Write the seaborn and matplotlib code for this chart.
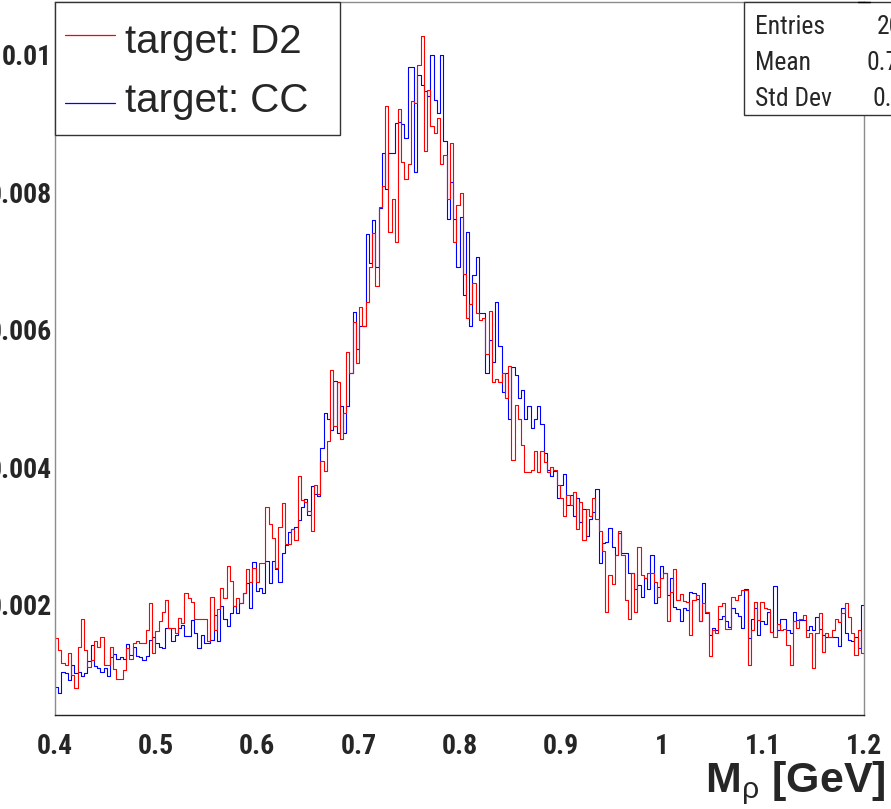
import numpy as np
import pandas as pd
import seaborn as sns
import matplotlib.pyplot as plt
from matplotlib import font_manager
from matplotlib.font_manager import FontProperties
from matplotlib.lines import Line2D
from matplotlib.patches import Rectangle
from matplotlib.ticker import MultipleLocator, FuncFormatter

# ---------------------------------------------------------------- data
x_lo, x_hi, n_bins = 0.4, 1.2, 250

# normalised bin contents, in units of 1e-3
d2 = [1.52, 1.34, 1.16, 1.13, 1.30, 0.98, 0.79, 1.39, 1.80, 1.34,
      1.10, 1.20, 1.47, 1.39, 1.53, 1.13, 1.13, 1.39, 1.07, 0.93,
      0.93, 1.06, 1.37, 1.21, 1.44, 1.47, 1.44, 1.44, 1.64, 2.03,
      1.30, 1.62, 1.76, 1.90, 2.07, 1.66, 1.66, 1.59, 1.81, 1.74,
      2.17, 2.10, 2.05, 1.79, 1.79, 1.79, 1.80, 1.47, 2.12, 1.64,
      1.94, 2.24, 2.10, 2.56, 2.35, 1.98, 2.10, 2.03, 2.17, 2.52,
      2.34, 2.54, 2.33, 2.61, 2.61, 3.43, 3.18, 2.97, 2.54, 3.14,
      3.48, 2.88, 2.88, 3.10, 2.95, 3.88, 3.53, 3.50, 3.36, 3.07,
      3.74, 3.62, 4.09, 3.95, 4.38, 5.42, 4.60, 5.25, 4.42, 4.79,
      5.68, 5.37, 6.11, 5.52, 6.33, 6.06, 6.41, 6.92, 7.41, 6.64,
      7.79, 8.10, 9.26, 7.43, 7.90, 7.28, 9.21, 8.45, 8.19, 8.41,
      9.33, 9.30, 9.85, 10.27, 8.60, 9.49, 8.96, 8.86, 9.09, 8.41,
      8.55, 7.90, 8.72, 7.28, 7.82, 7.99, 6.82, 6.18, 6.38, 6.68,
      6.24, 6.15, 6.17, 5.65, 6.28, 5.25, 5.28, 5.25, 5.38, 5.01,
      5.47, 4.11, 4.91, 4.71, 4.33, 3.94, 3.94, 3.97, 4.24, 3.94,
      4.24, 4.08, 3.94, 4.01, 3.96, 3.75, 3.55, 3.30, 3.60, 3.45,
      3.65, 3.10, 3.50, 2.95, 3.40, 3.30, 3.55, 3.25, 3.07, 2.79,
      1.90, 2.43, 2.30, 2.73, 3.07, 2.73, 2.07, 1.79, 2.46, 1.90,
      2.84, 2.43, 2.39, 2.47, 2.47, 2.34, 2.12, 2.39, 2.47, 1.76,
      2.19, 2.52, 2.07, 2.16, 2.06, 2.04, 1.56, 2.07, 2.15, 1.76,
      2.03, 1.90, 1.26, 1.64, 1.59, 1.98, 2.03, 1.65, 1.65, 2.11,
      2.07, 2.15, 2.22, 2.22, 1.13, 1.64, 2.05, 1.78, 2.05, 1.96,
      1.94, 1.60, 1.53, 1.73, 1.64, 1.65, 1.42, 1.13, 1.76, 1.66,
      1.80, 1.85, 1.53, 1.59, 1.08, 1.59, 1.88, 1.31, 1.59, 1.53,
      1.63, 1.80, 1.75, 1.88, 2.03, 1.83, 1.59, 1.27, 1.64, 1.30]

cc = [0.81, 0.72, 1.03, 1.01, 0.91, 1.13, 1.01, 1.02, 0.96, 1.01,
      1.18, 1.42, 1.11, 1.09, 1.02, 1.08, 0.97, 1.25, 1.29, 1.22,
      1.25, 1.22, 1.43, 1.27, 1.39, 1.26, 1.24, 1.20, 1.26, 1.49,
      1.54, 1.44, 1.39, 1.37, 1.66, 1.66, 1.48, 1.56, 1.66, 1.71,
      1.55, 1.55, 1.78, 1.59, 1.38, 1.56, 1.44, 1.44, 1.49, 1.85,
      1.47, 1.98, 1.80, 1.69, 1.88, 1.98, 1.89, 2.03, 2.18, 2.32,
      1.96, 2.63, 2.21, 2.24, 2.18, 2.64, 2.32, 2.64, 2.53, 2.34,
      2.75, 2.87, 3.06, 3.10, 3.14, 3.24, 3.43, 3.54, 3.31, 3.73,
      3.62, 3.59, 4.28, 4.79, 4.70, 4.55, 5.26, 4.50, 4.89, 4.50,
      4.90, 5.38, 6.26, 5.73, 6.06, 6.06, 7.40, 6.97, 7.60, 6.92,
      7.78, 8.57, 8.05, 8.57, 8.57, 9.01, 9.02, 9.00, 8.79, 9.83,
      9.83, 8.30, 9.71, 9.56, 9.47, 9.40, 10.00, 9.35, 9.16, 10.00,
      8.75, 7.62, 8.15, 7.62, 6.92, 7.64, 6.51, 7.42, 6.06, 6.80,
      7.06, 6.24, 6.24, 5.38, 5.86, 5.54, 6.41, 5.77, 5.10, 5.38,
      4.71, 5.46, 5.35, 5.01, 5.13, 4.71, 4.89, 4.57, 4.71, 4.89,
      4.63, 4.21, 3.96, 3.88, 3.95, 3.55, 3.75, 3.90, 3.45, 3.60,
      3.30, 3.55, 3.20, 3.40, 3.00, 3.25, 3.35, 3.68, 2.61, 2.90,
      2.92, 3.12, 2.85, 2.72, 3.04, 2.75, 2.75, 2.46, 2.46, 2.23,
      2.29, 2.12, 2.39, 2.23, 2.72, 2.03, 2.26, 2.56, 2.46, 2.15,
      2.39, 1.97, 1.94, 1.76, 1.95, 1.93, 2.19, 2.18, 2.08, 1.76,
      2.32, 1.88, 1.56, 1.66, 1.64, 1.80, 1.84, 1.76, 1.68, 1.95,
      1.88, 1.84, 1.66, 2.23, 1.52, 1.80, 1.96, 1.56, 1.76, 1.73,
      1.90, 1.60, 2.27, 1.64, 1.79, 1.80, 1.64, 1.59, 1.90, 1.78,
      1.78, 1.78, 1.64, 1.69, 1.64, 1.82, 1.65, 1.56, 1.53, 1.53,
      1.53, 1.53, 1.41, 1.95, 1.59, 1.49, 1.47, 1.54, 1.37, 2.00]

targets = ['target: D2', 'target: CC']
colors = {'target: D2': '#ff0000', 'target: CC': '#0000ff'}
stat_names = ['Entries', 'Mean', 'Std Dev']
stat_values = ['20000', '0.7626', '0.1807']

# ---------------------------------------------------------------- fonts
# ROOT's helvetica labels are narrow: take a narrow face if one is installed
narrow_names = ['Liberation Sans Narrow', 'Roboto Condensed', 'Open Sans Condensed',
                'Noto Sans Condensed', 'Arial Narrow']


def find_narrow(bold):
    for name in narrow_names:
        for f in font_manager.fontManager.ttflist:
            is_bold = f.weight in ('bold', 700, '700')
            if f.name == name and is_bold == bold and f.style == 'normal':
                return f.fname
    return None


bn = find_narrow(True)
rn = find_narrow(False)
tick_fp = FontProperties(fname=bn) if bn else FontProperties(family='Liberation Sans', weight='bold')
stat_fp = FontProperties(fname=rn) if rn else FontProperties(family='Liberation Sans')

sns.set_style('white')
plt.rcParams['font.family'] = ['Liberation Sans', 'DejaVu Sans']
plt.rcParams['mathtext.fontset'] = 'custom'
plt.rcParams['mathtext.it'] = 'Liberation Sans'
plt.rcParams['mathtext.rm'] = 'Liberation Sans'

W, H = 891, 809


def fx(x):
    return x / W


def fy(y):
    return 1 - y / H


edges = [x_lo + i * (x_hi - x_lo) / n_bins for i in range(n_bins + 1)]
centers = [0.5 * (edges[i] + edges[i + 1]) for i in range(n_bins)]
df = pd.DataFrame({
    'mass': centers + centers,
    'content': [v * 1e-3 for v in d2 + cc],
    'target': [targets[0]] * n_bins + [targets[1]] * n_bins,
})

fig = plt.figure(figsize=(W / 100, H / 100), dpi=100)
renderer = fig.canvas.get_renderer()


def fit_size(fp, sample, width_px, max_pt):
    '''font size (pt) giving the sample string the wanted width, capped'''
    fp = fp.copy()
    fp.set_size(20)
    t = fig.text(0, 0, sample, fontproperties=fp)
    w = t.get_window_extent(renderer).width
    t.remove()
    return min(max_pt, 20 * width_px / w)


tick_fp.set_size(fit_size(tick_fp, '0.01', 50, 22))
stat_fp.set_size(fit_size(stat_fp, 'Entries', 70, 20))

ax = fig.add_axes([fx(55), 1 - 715 / H, (864 - 55) / W, (715 - 2) / H])
sns.histplot(data=df, x='mass', weights='content', hue='target', hue_order=targets,
             bins=edges, element='step', fill=False, palette=colors,
             linewidth=0.8, legend=False, ax=ax)
ax.set_xlim(x_lo, x_hi)
ax.set_ylim(0.0004, 0.01077)
ax.set_xlabel('')
ax.set_ylabel('')

# ROOT style axes
ax.xaxis.set_major_locator(MultipleLocator(0.1))
ax.xaxis.set_minor_locator(MultipleLocator(0.02))
ax.yaxis.set_major_locator(MultipleLocator(0.002))
ax.yaxis.set_minor_locator(MultipleLocator(0.0005))
ax.xaxis.set_major_formatter(FuncFormatter(lambda v, p: '%g' % round(v, 3)))
ax.yaxis.set_major_formatter(FuncFormatter(lambda v, p: '%g' % round(v, 4)))
ax.tick_params(axis='x', which='major', direction='in', length=16, width=0.8,
               color='#555555', pad=13, top=False)
ax.tick_params(axis='x', which='minor', direction='in', length=8.5, width=0.8,
               color='#555555', top=False)
ax.tick_params(axis='y', which='major', direction='in', length=18, width=0.8,
               color='#444444', pad=2, right=False)
ax.tick_params(axis='y', which='minor', direction='in', length=8.5, width=0.8,
               color='#444444', right=False)
for side in ['left', 'right', 'top']:
    ax.spines[side].set_color('#8c8c8c')
    ax.spines[side].set_linewidth(1.0)
ax.spines['bottom'].set_color('#222222')
ax.spines['bottom'].set_linewidth(1.0)

fig.canvas.draw()
for lab in ax.get_xticklabels() + ax.get_yticklabels():
    lab.set_fontproperties(tick_fp)

fig.text(fx(886), fy(792), r'M$_{\rho}$ [GeV]', ha='right', va='baseline',
         fontsize=31, fontweight='bold', family=['Liberation Sans', 'DejaVu Sans'])

# legend box
fig.add_artist(Rectangle((fx(55), fy(135)), (340 - 55) / W, (135 - 2) / H,
                         transform=fig.transFigure, facecolor='white',
                         edgecolor='#333333', lw=1.0, zorder=5))
for name, ybase, yline in [(targets[0], 53, 35), (targets[1], 112, 103)]:
    fig.add_artist(Line2D([fx(65), fx(115)], [fy(yline), fy(yline)],
                          transform=fig.transFigure, color=colors[name], lw=0.9, zorder=6))
    fig.text(fx(125), fy(ybase), name, ha='left', va='baseline', fontsize=29,
             family=['Liberation Sans', 'DejaVu Sans'], zorder=6)

# stat box (cut at the right edge of the canvas)
fig.add_artist(Rectangle((fx(744), fy(115)), (900 - 744) / W, (115 - 2) / H,
                         transform=fig.transFigure, facecolor='white',
                         edgecolor='#333333', lw=1.0, zorder=5))
fig.add_artist(Line2D([fx(858), fx(870)], [fy(1.5), fy(1.5)],
                      transform=fig.transFigure, color='black', lw=1.0, zorder=6))
val_x = [877, 866, 872]
for i, (lab, val) in enumerate(zip(stat_names, stat_values)):
    yb = 34 + 36 * i
    fig.text(fx(755), fy(yb), lab, ha='left', va='baseline',
             fontproperties=stat_fp, zorder=6)
    fig.text(fx(val_x[i]), fy(yb), val, ha='left', va='baseline',
             fontproperties=stat_fp, zorder=6)

fig.savefig('out.png', dpi=100)
plt.close(fig)
